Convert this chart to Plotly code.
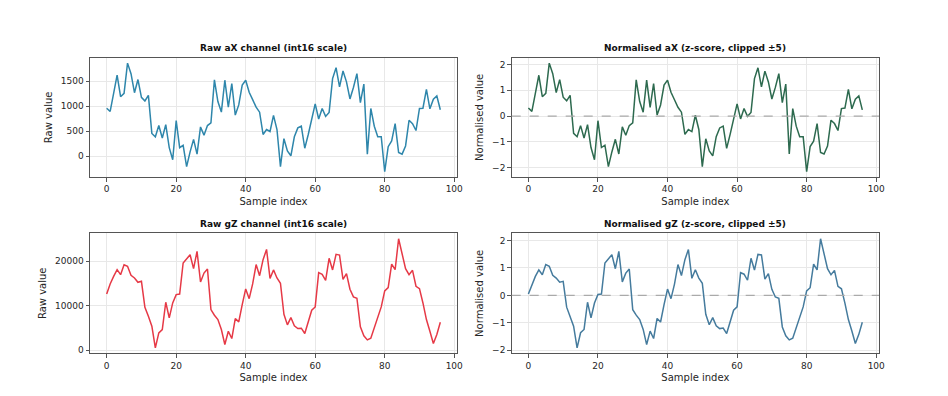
import plotly.graph_objects as go
from plotly.subplots import make_subplots

# ---------------- data ----------------
sample_index = list(range(97))

raw_ax = [960, 895, 1257, 1620, 1190, 1257, 1862, 1650, 1270, 1533,
          1178, 1105, 1217, 454, 388, 612, 362, 632, 171, -72,
          710, 171, 217, -210, 85, 335, 40, 585, 420, 612,
          665, 1527, 1092, 882, 1520, 980, 1454, 822, 1026, 1421,
          1520, 1280, 1130, 980, 880, 434, 533, 493, 816, 533,
          -210, 349, 105, 7, 388, 566, 599, 158, 434, 730,
          1046, 743, 954, 796, 875, 1553, 1770, 1388, 1704, 1487,
          1145, 1375, 1651, 1072, 1441, 40, 954, 599, 388, 388,
          -309, 190, 303, 651, 72, 40, 204, 717, 651, 513,
          954, 960, 1335, 947, 1138, 1204, 928]

norm_ax = [0.31, 0.18, 0.88, 1.58, 0.75, 0.88, 2.05, 1.64, 0.91, 1.41,
           0.73, 0.59, 0.80, -0.67, -0.80, -0.37, -0.85, -0.33, -1.22, -1.69,
           -0.18, -1.22, -1.13, -1.96, -1.39, -0.90, -1.47, -0.42, -0.74, -0.37,
           -0.26, 1.40, 0.56, 0.15, 1.39, 0.34, 1.26, 0.04, 0.43, 1.20,
           1.39, 0.92, 0.63, 0.34, 0.15, -0.71, -0.52, -0.60, 0.03, -0.52,
           -1.96, -0.88, -1.35, -1.54, -0.80, -0.46, -0.39, -1.25, -0.71, -0.14,
           0.47, -0.11, 0.29, -0.01, 0.14, 1.45, 1.87, 1.13, 1.74, 1.32,
           0.66, 1.11, 1.64, 0.52, 1.24, -1.47, 0.29, -0.39, -0.80, -0.80,
           -2.15, -1.18, -0.97, -0.29, -1.41, -1.47, -1.16, -0.16, -0.29, -0.56,
           0.29, 0.31, 1.03, 0.28, 0.65, 0.78, 0.24]

raw_gz = [12600, 14850, 16560, 18050, 16930, 19170, 18800, 16790, 16190, 15220,
          15440, 9620, 7610, 5370, 520, 3880, 4625, 10740, 7240, 10590,
          12460, 12600, 19550, 20440, 21410, 18280, 22160, 15290, 17300, 18200,
          9100, 7830, 6860, 4625, 1270, 4250, 2610, 7090, 6340, 10200,
          13730, 11560, 14850, 19200, 16700, 20300, 22600, 16100, 18000, 16200,
          15000, 8060, 5670, 7310, 5450, 4850, 4930, 3730, 6420, 8960,
          9700, 17390, 17010, 15670, 20600, 17990, 21490, 21340, 15900, 17160,
          13660, 11940, 11640, 5220, 3210, 2310, 2690, 5070, 7690, 9700,
          13280, 14030, 19320, 18050, 24990, 21560, 18280, 16940, 17910, 14330,
          13800, 10590, 6860, 4250, 1490, 3510, 6270]

norm_gz = [0.05, 0.41, 0.69, 0.93, 0.75, 1.12, 1.06, 0.73, 0.63, 0.48,
           0.51, -0.43, -0.76, -1.12, -1.91, -1.36, -1.24, -0.25, -0.82, -0.28,
           0.03, 0.05, 1.18, 1.32, 1.48, 0.97, 1.60, 0.49, 0.81, 0.96,
           -0.52, -0.72, -0.88, -1.24, -1.79, -1.30, -1.57, -0.84, -0.97, -0.34,
           0.23, -0.12, 0.41, 1.12, 0.72, 1.30, 1.67, 0.62, 0.93, 0.63,
           0.44, -0.69, -1.07, -0.81, -1.11, -1.21, -1.19, -1.39, -0.95, -0.54,
           -0.42, 0.83, 0.77, 0.55, 1.35, 0.92, 1.49, 1.47, 0.59, 0.79,
           0.22, -0.06, -0.11, -1.15, -1.47, -1.62, -1.56, -1.17, -0.75, -0.42,
           0.16, 0.28, 1.14, 0.93, 2.06, 1.50, 0.97, 0.75, 0.91, 0.33,
           0.24, -0.28, -0.88, -1.30, -1.75, -1.42, -0.98]

titles = ["Raw aX channel (int16 scale)", "Normalised aX (z-score, clipped \u00b15)",
          "Raw gZ channel (int16 scale)", "Normalised gZ (z-score, clipped \u00b15)"]
y_labels = ["Raw value", "Normalised value", "Raw value", "Normalised value"]
x_label = "Sample index"
x_ticks = [0, 20, 40, 60, 80, 100]
y_ticks = [[0, 500, 1000, 1500], [-2, -1, 0, 1, 2], [0, 10000, 20000], [-2, -1, 0, 1, 2]]
series = [raw_ax, norm_ax, raw_gz, norm_gz]
colors = ["#2E86AB", "#2D6A4F", "#E63946", "#457B9D"]

# ---------------- figure ----------------
W, H = 948, 396
OX, OY = 8, 8   # page body margin offset of the rendered figure
FONT = "DejaVu Sans"
TXT = "#262626"

fig = make_subplots(rows=2, cols=2)


def px_x(p):
    return (p - OX) / W


def px_y(p):
    return 1 - (p - OY) / H


x_dom = [[px_x(90), px_x(457)], [px_x(511.7), px_x(879)]]
y_dom = [[px_y(177), px_y(57.7)], [px_y(353.3), px_y(233.3)]]


def padded(vals, frac=0.05):
    lo, hi = min(vals), max(vals)
    p = (hi - lo) * frac
    return [lo - p, hi + p]


for k in range(4):
    r, c = k // 2 + 1, k % 2 + 1
    fig.add_trace(go.Scatter(x=sample_index, y=series[k], mode="lines",
                             line=dict(color=colors[k], width=1.5),
                             showlegend=False, hoverinfo="skip"), row=r, col=c)
    ax_common = dict(showgrid=True, gridcolor="#e8e8e8", gridwidth=1,
                     zeroline=False, showline=True, linecolor="#555555", linewidth=1,
                     mirror=True, ticks="outside", ticklen=3.5, tickcolor="#555555",
                     automargin=False, tickformat="d" if c == 1 else None,
                     tickfont=dict(family=FONT, size=9, color=TXT))
    fig.update_xaxes(range=[-4.8, 100.8], tickvals=x_ticks,
                     domain=x_dom[c - 1],
                     title=dict(text=x_label, font=dict(family=FONT, size=10, color=TXT),
                                standoff=4),
                     **ax_common, row=r, col=c)
    fig.update_yaxes(range=padded(series[k]), tickvals=y_ticks[k],
                     domain=y_dom[r - 1],
                     title=dict(text=y_labels[k], font=dict(family=FONT, size=10, color=TXT),
                                standoff=6),
                     **ax_common, row=r, col=c)
    if c == 2:
        fig.add_hline(y=0, line=dict(color="#aaaaaa", width=1.2, dash="dash"),
                      row=r, col=c)
    fig.add_annotation(text="<b>%s</b>" % titles[k], xref="paper", yref="paper",
                       x=sum(x_dom[c - 1]) / 2, y=y_dom[r - 1][1] + 9.5 / H,
                       xanchor="center", yanchor="middle", showarrow=False,
                       font=dict(family=FONT, size=9, color="#111111"))

fig.update_layout(width=W, height=H, margin=dict(l=0, r=0, t=0, b=0),
                  paper_bgcolor="white", plot_bgcolor="white",
                  font=dict(family=FONT, color=TXT))

fig.write_html("out.html")
